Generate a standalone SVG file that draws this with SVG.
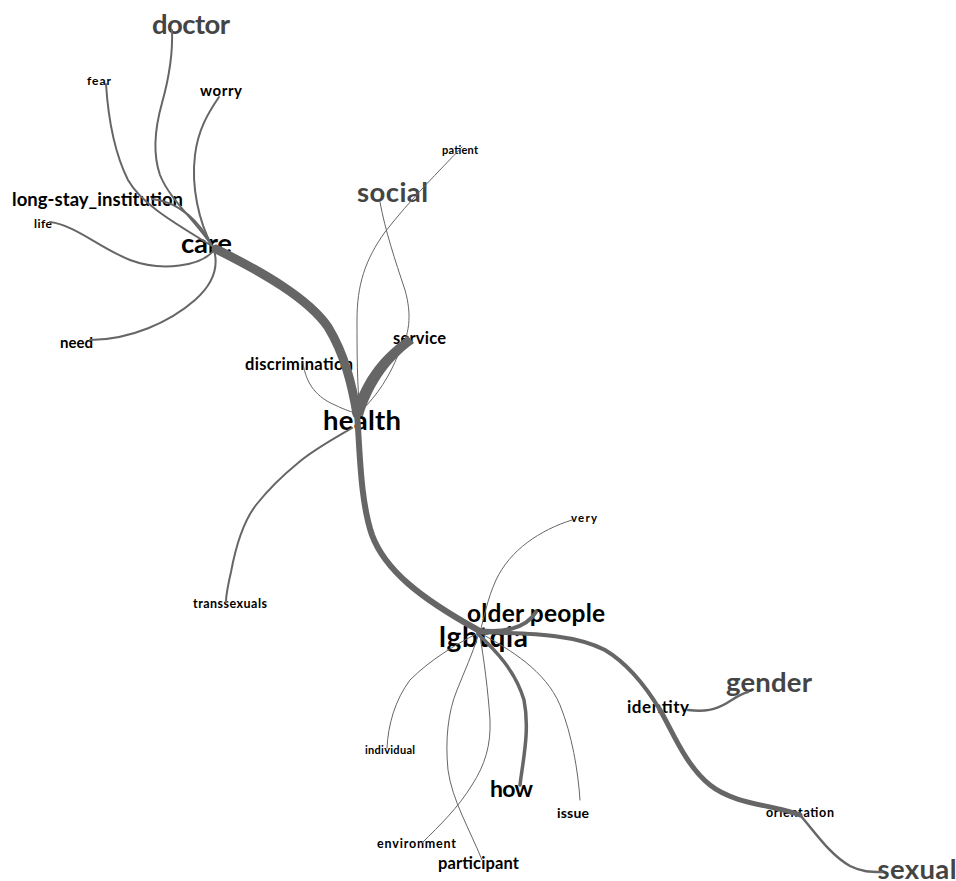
<svg xmlns="http://www.w3.org/2000/svg" width="956" height="881" viewBox="0 0 956 881">
<style>
text{font-family:Lato,"Liberation Sans",sans-serif;font-weight:bold;text-anchor:middle;fill:#000}
.g{fill:#444}
.c{fill:none;stroke:#666;stroke-linecap:round;stroke-linejoin:round}
.t1{stroke-width:1}
.t2{stroke-width:2}
.t3{stroke-width:2.5}
</style>
<rect width="956" height="881" fill="#fff"/>
<g id="nodes">
<g id="n-doctor"><text class="g" x="191" y="34" font-size="27.5" textLength="78">doctor</text></g>
<g id="n-fear"><text x="99" y="85" font-size="12" textLength="24">fear</text></g>
<g id="n-worry"><text x="221" y="96" font-size="15" textLength="42">worry</text></g>
<g id="n-long-stay"><text x="97.5" y="206" font-size="18.5" textLength="171">long-stay_institution</text></g>
<g id="n-life"><text x="43" y="228" font-size="12" textLength="18">life</text></g>
<g id="n-care"><text x="206.5" y="253" font-size="27.5" textLength="51">care</text></g>
<g id="n-need"><text x="76.5" y="348" font-size="15" textLength="33">need</text></g>
<g id="n-social"><text class="g" x="392.5" y="202" font-size="27.5" textLength="71">social</text></g>
<g id="n-patient"><text x="460" y="154" font-size="11" textLength="36">patient</text></g>
<g id="n-service"><text x="419.5" y="344" font-size="16.5" textLength="53">service</text></g>
<g id="n-discrimination"><text x="299" y="370" font-size="16.5" textLength="108">discrimination</text></g>
<g id="n-health"><text x="362" y="430" font-size="27.5" textLength="78">health</text></g>
<g id="n-transsexuals"><text x="230" y="608" font-size="12.5" textLength="74">transsexuals</text></g>
<g id="n-very"><text x="584" y="522" font-size="11.5" textLength="26">very</text></g>
<g id="n-older-people"><text x="536" y="622" font-size="24.5" textLength="138">older people</text></g>
<g id="n-lgbtqia"><text x="483.5" y="647" font-size="28" textLength="89">lgbtqia</text></g>
<g id="n-gender"><text class="g" x="769" y="692" font-size="27.5" textLength="86">gender</text></g>
<g id="n-identity"><text x="658" y="713" font-size="17" textLength="62">identity</text></g>
<g id="n-individual"><text x="390" y="754" font-size="11" textLength="50">individual</text></g>
<g id="n-how"><text x="511.5" y="797" font-size="23" textLength="43">how</text></g>
<g id="n-issue"><text x="573" y="818" font-size="14" textLength="32">issue</text></g>
<g id="n-orientation"><text x="800" y="817" font-size="12.5" textLength="68">orientation</text></g>
<g id="n-environment"><text x="416.5" y="848" font-size="12.5" textLength="79">environment</text></g>
<g id="n-participant"><text x="478.5" y="869" font-size="16.5" textLength="81">participant</text></g>
<g id="n-sexual"><text class="g" x="917" y="879" font-size="27.5" textLength="79">sexual</text></g>
</g>
<g id="connectors">
<path class="c t2" d="M172,30 C173,55 169,78 162,103 C155,128 153,155 160,175 C170,200 195,220 212,246"/>
<path class="c t2" d="M106,84 C108,115 113,150 128,180 C142,205 178,225 212,246"/>
<path class="c t2" d="M219,97 C208,113 198,130 195,155 C191,187 199,222 212,246"/>
<path class="c t2" d="M152,199 C180,202 200,222 212,246"/>
<path class="c t2" d="M50,222 C75,225 100,248 130,260 C162,272 202,266 214,250"/>
<path class="c t2" d="M90,340 C130,340 170,322 195,300 C212,285 219,268 214,250"/>
<path class="c" stroke-width="9" d="M216,249 C262,272 308,298 328,327 C345,355 352,385 357,414"/>
<path class="c" stroke-width="6" d="M357,414 C360,450 360,500 372,535 C385,570 420,598 478,630"/>
<path fill="#666" d="M352,414 C360,385 376,358 408,336 L414,343 C386,363 371,390 363,416 Z"/>
<path class="c t1" d="M380,202 C385,230 395,260 405,290 C412,315 410,335 398,355 C390,375 378,395 360,412"/>
<path class="c t1" d="M462,147 C440,170 410,200 385,232 C365,260 357,285 357,320 C357,350 357,385 360,412"/>
<path class="c t1" d="M303,363 C306,385 318,398 335,405 C345,410 352,412 358,414"/>
<path class="c t2" d="M352,428 C335,438 313,450 298,463 C282,476 268,490 256,505 C243,522 236,545 231,572 C228,585 226,595 226,602"/>
<path class="c" stroke-width="4" d="M478,630 C500,633 525,630 536,612"/>
<path class="c" stroke-width="4" d="M478,632 C520,634 570,632 605,650 C630,665 648,690 660,710"/>
<path class="c" stroke-width="5" d="M660,710 C672,730 685,765 710,785 C735,805 775,805 800,815"/>
<path class="c t3" d="M800,815 C815,832 830,855 850,866 C862,872 870,872 882,872"/>
<path class="c t3" d="M688,710 C705,712 715,710 727,703 C735,698 740,694 748,692"/>
<path class="c t1" d="M572,520 C540,530 510,550 496,580 C487,600 484,618 480,632"/>
<path class="c t1" d="M476,634 C455,645 430,660 410,680 C395,700 388,725 387,748"/>
<path class="c t1" d="M478,636 C472,655 465,670 457,690 C448,712 445,740 448,770 C452,800 470,830 482,860"/>
<path class="c t1" d="M480,636 C484,660 488,690 490,720 C491,745 485,765 472,785 C458,808 440,825 422,843"/>
<path class="c" stroke-width="3.5" d="M478,634 C495,650 515,670 524,700 C530,730 523,760 520,785"/>
<path class="c t1" d="M482,634 C510,650 545,670 560,705 C572,735 578,770 580,800"/>
</g>
</svg>
